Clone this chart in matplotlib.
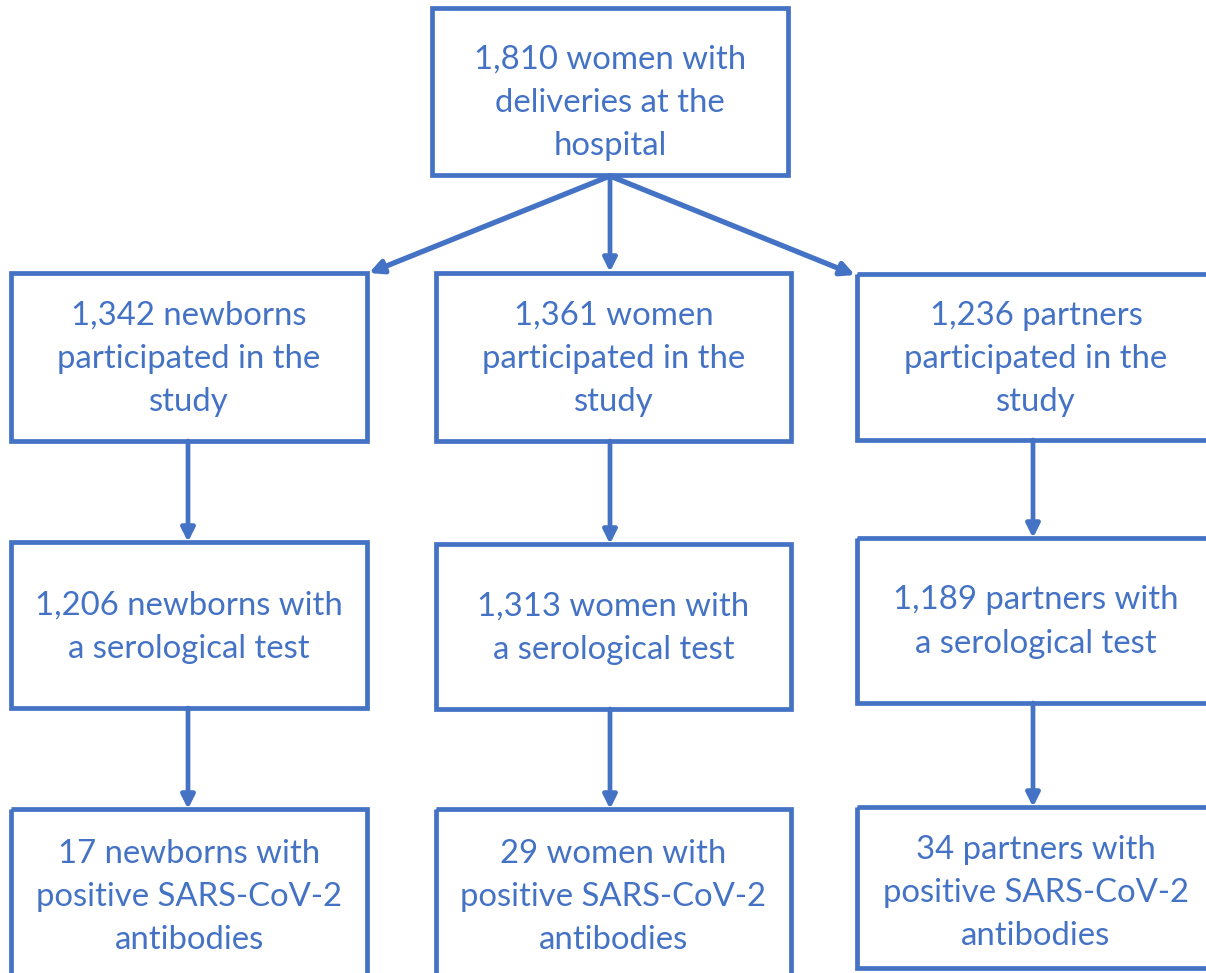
import matplotlib
matplotlib.use("Agg")
import matplotlib.pyplot as plt
from matplotlib.patches import Rectangle

# ---- data (flowchart content) ----
top_label = "1,810 women with\ndeliveries at the\nhospital"
participated = ["1,342 newborns\nparticipated in the\nstudy",
                "1,361 women\nparticipated in the\nstudy",
                "1,236 partners\nparticipated in the\nstudy"]
tested = ["1,206 newborns with\na serological test",
          "1,313 women with\na serological test",
          "1,189 partners with\na serological test"]
positive = ["17 newborns with\npositive SARS-CoV-2\nantibodies",
            "29 women with\npositive SARS-CoV-2\nantibodies",
            "34 partners with\npositive SARS-CoV-2\nantibodies"]

BLUE = "#4472C4"
W, H = 1206, 973
fig = plt.figure(figsize=(W / 100, H / 100), dpi=100)
ax = fig.add_axes([0, 0, 1, 1])
ax.set_xlim(0, W)
ax.set_ylim(H, 0)
ax.axis("off")

LW = 3.4
FONT = "Lato"
FS = 23.7
LS = 1.56

# layout (pixel space)
top_box = (432, 8, 788, 175)
col_x = [(11, 367), (436, 791), (857, 1215)]
rows = [
    [(273, 441), (273, 441), (274, 440)],
    [(542, 708), (544, 709), (538, 703)],
    [(809, 990), (809, 990), (807, 968)],
]
arrow_x = [188, 610, 1033]


def box(x0, y0, x1, y1, text, ty):
    ax.add_patch(Rectangle((x0, y0), x1 - x0, y1 - y0, fill=False,
                           edgecolor=BLUE, lw=LW, joinstyle="miter"))
    cx = (x0 + x1) / 2
    ax.text(cx, ty, text, ha="center", va="center", color=BLUE,
            fontsize=FS, family=FONT, linespacing=LS)


def arrow(x0, y0, x1, y1, lw=LW):
    ax.annotate("", xy=(x1, y1), xytext=(x0, y0),
                arrowprops=dict(arrowstyle="-|>", color=BLUE, lw=lw,
                                mutation_scale=20, shrinkA=0, shrinkB=0))


box(*top_box, top_label, ty=103)

text_y = [
    [359, 359, 359],
    [627, 628, 622],
    [897, 897, 893],
]
labels = [participated, tested, positive]
for r in range(3):
    for c in range(3):
        x0, x1 = col_x[c]
        y0, y1 = rows[r][c]
        box(x0, y0, x1, y1, labels[r][c], ty=text_y[r][c])

# arrows from top box
ox, oy = 610, 176
arrow(ox, oy, 369, 273, lw=3.8)
arrow(ox, oy, 610, 272)
arrow(ox, oy, 855, 275, lw=3.8)

# vertical arrows between rows
for c in range(3):
    for r in range(2):
        y_from = rows[r][c][1]
        y_to = rows[r + 1][c][0]
        arrow(arrow_x[c], y_from, arrow_x[c], y_to)

fig.savefig("out.png", dpi=100)
